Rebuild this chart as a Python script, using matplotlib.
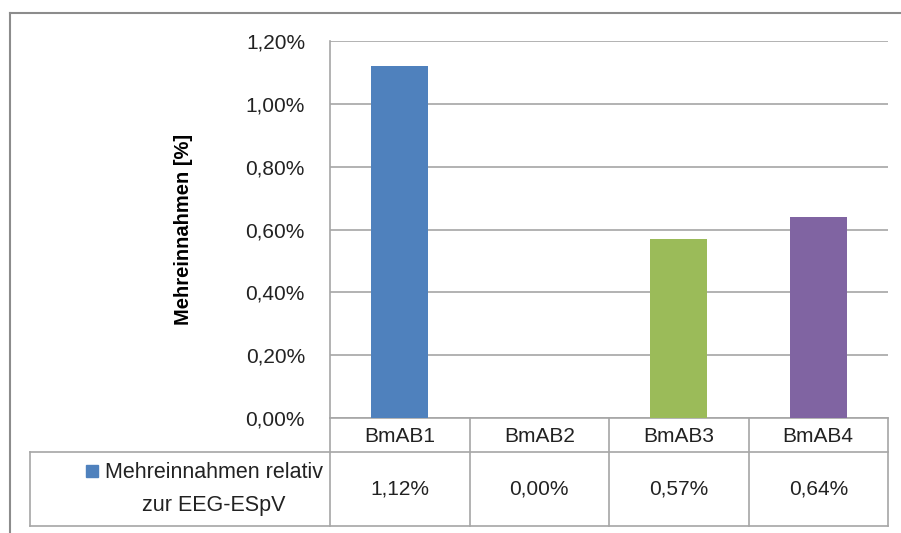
import matplotlib.pyplot as plt
from matplotlib.lines import Line2D
from matplotlib.transforms import blended_transform_factory
from matplotlib.ticker import FuncFormatter

plt.rcParams['font.family'] = ['Liberation Sans', 'DejaVu Sans']

categories = ['BmAB1', 'BmAB2', 'BmAB3', 'BmAB4']
values = [1.12, 0.00, 0.57, 0.64]
colors = ['#4F81BD', '#C0504D', '#9BBB59', '#8064A2']
series_name = 'Mehreinnahmen relativ\nzur EEG-ESpV'
y_ticks = [0.0, 0.2, 0.4, 0.6, 0.8, 1.0, 1.2]


def pct(v, _pos=None):
    return f'{v:.2f}%'.replace('.', ',')


fig = plt.figure(figsize=(9.01, 5.33), dpi=100)
W, H = 901, 533
ax = fig.add_axes([330 / W, 1 - 418 / H, (888 - 330) / W, (418 - 41) / H])

x = range(len(categories))
ax.bar(x, values, width=0.41, color=colors, zorder=3)

ax.set_xlim(-0.5, len(categories) - 0.5)
ax.set_ylim(0, 1.2)
ax.set_yticks(y_ticks)
ax.yaxis.set_major_formatter(FuncFormatter(pct))
ax.set_xticks([])
ax.tick_params(axis='y', length=0, pad=18, labelsize=15, colors='#222222')
ax.grid(axis='y', color='#A6A6A6', linewidth=1.2, zorder=0)
for side in ['top', 'right', 'bottom']:
    ax.spines[side].set_visible(False)
ax.spines['left'].set_color('#A6A6A6')
ax.spines['left'].set_linewidth(1.2)
ax.set_ylabel('Mehreinnahmen [%]', fontsize=14.5, fontweight='bold', labelpad=38)

# data table underneath the plot area
tr = blended_transform_factory(ax.transData, ax.transAxes)
px = 139.5  # pixels per category
row1 = -34 / 377
row2 = -108 / 377
left_cell = -0.5 - 300 / px
line_kw = dict(color='#A6A6A6', linewidth=1.2, transform=tr, clip_on=False)
edges = [i - 0.5 for i in range(len(categories) + 1)]
ax.add_line(Line2D([-0.5, edges[-1]], [0, 0], **line_kw))
ax.add_line(Line2D([left_cell, edges[-1]], [row1, row1], **line_kw))
ax.add_line(Line2D([left_cell, edges[-1]], [row2, row2], **line_kw))
for e in edges:
    ax.add_line(Line2D([e, e], [0, row2], **line_kw))
ax.add_line(Line2D([left_cell, left_cell], [row1, row2], **line_kw))

for i, (cat, v) in enumerate(zip(categories, values)):
    ax.text(i, row1 / 2 - 0.004, cat, transform=tr, ha='center', va='center',
            fontsize=15, color='#222222')
    ax.text(i, (row1 + row2) / 2, pct(v), transform=tr, ha='center',
            va='center', fontsize=15, color='#222222')

ax.text(-0.5 - 116 / px, (row1 + row2) / 2, series_name, transform=tr,
        ha='center', va='center', fontsize=15.5, color='#222222',
        multialignment='center', linespacing=1.75)
ax.add_line(Line2D([-0.5 - 238 / px], [row1 + (row2 - row1) * 0.25],
                   marker='s', markersize=9, color=colors[0], linestyle='none',
                   transform=tr, clip_on=False))

# outer chart frame
frame_kw = dict(color='#8C8C8C', linewidth=1.5, transform=fig.transFigure)
fig.add_artist(Line2D([10 / W, 1], [1 - 13 / H, 1 - 13 / H], **frame_kw))
fig.add_artist(Line2D([10 / W, 10 / W], [1 - 13 / H, 0], **frame_kw))

fig.savefig('out.png', dpi=100)
